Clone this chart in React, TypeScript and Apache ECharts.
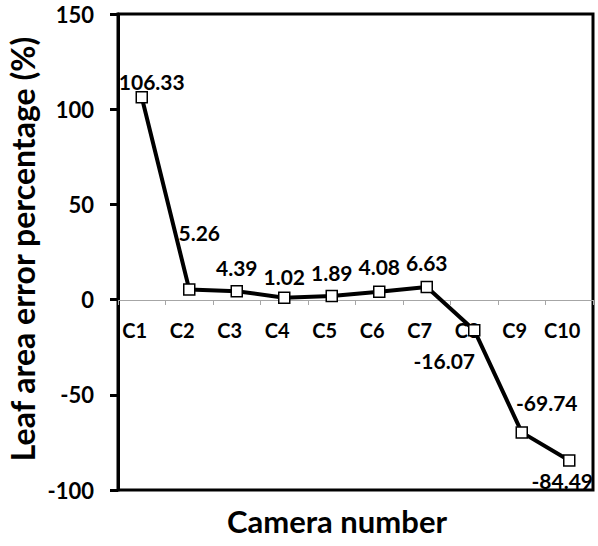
import React, { useEffect, useRef } from "react";
import * as echarts from "echarts";

const categories = ["C1", "C2", "C3", "C4", "C5", "C6", "C7", "C8", "C9", "C10"];
const errorValues = [106.33, 5.26, 4.39, 1.02, 1.89, 4.08, 6.63, -16.07, -69.74, -84.49];
const yTicks = { min: -100, max: 150, interval: 50 };
const yTitle = "Leaf area error percentage (%)";
const xTitle = "Camera number";

// label offsets in px relative to each point (layout only)
const labelOffsets: [number, number][] = [
  [10, -16], [10, -57], [0, -24], [0, -21], [0, -24], [0, -25], [0, -24], [-30, 30], [25, -30], [-7, 20],
];

const FONT = 'Lato, "Open Sans", "DejaVu Sans", sans-serif';

export default function App() {
  const ref = useRef<HTMLDivElement>(null);
  useEffect(() => {
    if (!ref.current) return;
    const chart = echarts.init(ref.current, undefined, { renderer: "svg" });
    const data = errorValues.map((v, i) => ({
      value: v,
      label: { offset: labelOffsets[i] },
    }));
    chart.setOption({
      animation: false,
      backgroundColor: "#ffffff",
      textStyle: { fontFamily: FONT },
      grid: {
        left: 118, top: 14, right: 5, bottom: 56,
        show: true, borderColor: "#000", borderWidth: 3, backgroundColor: "transparent",
      },
      xAxis: {
        type: "category",
        data: categories,
        boundaryGap: true,
        offset: -190,
        axisLine: { onZero: false, lineStyle: { color: "#a6a6a6", width: 1 } },
        axisTick: { show: true, inside: false, length: 5, lineStyle: { color: "#a6a6a6" } },
        axisLabel: {
          color: "#000", fontWeight: "bold", fontSize: 20, fontFamily: FONT,
          margin: 20, padding: [0, 14, 0, 0],
        },
        splitLine: { show: false },
      },
      yAxis: {
        type: "value",
        min: yTicks.min, max: yTicks.max, interval: yTicks.interval,
        axisLine: { show: true, lineStyle: { color: "#000", width: 3 } },
        axisTick: { show: true, length: 8, lineStyle: { color: "#000", width: 3 } },
        axisLabel: { color: "#000", fontWeight: "bold", fontSize: 22, fontFamily: FONT, margin: 24 },
        splitLine: { show: false },
      },
      graphic: [
        {
          type: "text", x: 22, y: 249, rotation: Math.PI / 2,
          style: {
            text: yTitle, fill: "#000", font: `bold 32px ${FONT}`,
            textAlign: "center", textVerticalAlign: "middle",
          },
        },
        {
          type: "text", x: 337, y: 521,
          style: {
            text: xTitle, fill: "#000", font: `bold 31px ${FONT}`,
            textAlign: "center", textVerticalAlign: "middle",
          },
        },
      ],
      series: [
        {
          type: "line",
          data,
          symbol: "rect",
          symbolSize: 11,
          itemStyle: { color: "#fff", borderColor: "#000", borderWidth: 1.5 },
          lineStyle: { color: "#000", width: 4 },
          label: {
            show: true, position: "inside", color: "#000",
            fontWeight: "bold", fontSize: 21, fontFamily: FONT,
            formatter: (p: any) => p.value.toFixed(2),
          },
          z: 5,
        },
      ],
    });
    return () => chart.dispose();
  }, []);
  return <div ref={ref} style={{ position: "fixed", left: 0, top: 0, width: 598, height: 546 }} />;
}
